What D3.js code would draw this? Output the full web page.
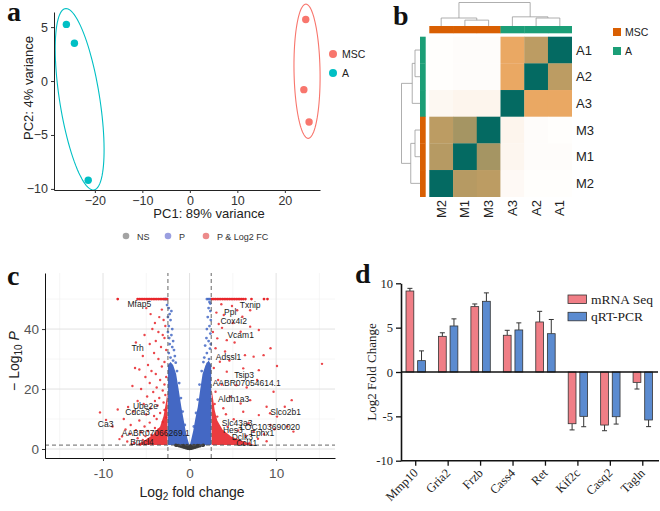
<!DOCTYPE html>
<html>
<head>
<meta charset="utf-8">
<script src="https://cdn.jsdelivr.net/npm/d3@7"></script>
<style>
  body { margin: 0; background: #fff; }
  svg { display: block; font-family: "Liberation Sans", Arial, sans-serif; }
</style>
</head>
<body>
<svg id="fig" width="660" height="511"></svg>
<script>
// ---------- panel a : PCA ----------
const pcaGroup = ['MSC', 'MSC', 'MSC', 'A', 'A', 'A'];
const pc1 = [24.4, 24.0, 25.1, -26.0, -24.3, -21.4];
const pc2 = [5.7, -0.8, -3.8, 5.25, 3.5, -9.2];
// ellipse per group: centre and two conjugate half-diameters (data units)
const ellGroups = ['MSC', 'A'];
const ellCentre = [[24.67, 0.91], [-23.2, -1.69]];
const ellU = [[-0.24, 6.22], [-2.87, 8.41]];
const ellV = [[2.74, 0], [4.27, 0]];

// ---------- panel b : sample distance heatmap ----------
const heatRows = ['A1', 'A2', 'A3', 'M3', 'M1', 'M2'];
const heatCols = ['M2', 'M1', 'M3', 'A3', 'A2', 'A1'];
const heatVals = [
  [0.01, 0.02, 0.02, 0.60, 0.68, 1.00],
  [0.01, 0.02, 0.02, 0.60, 1.00, 0.68],
  [0.05, 0.07, 0.07, 1.00, 0.60, 0.60],
  [0.68, 0.72, 1.00, 0.07, 0.02, 0.01],
  [0.69, 1.00, 0.72, 0.06, 0.02, 0.02],
  [1.00, 0.69, 0.68, 0.04, 0.01, 0.01]
];
const sampleGroup = { M1: 'MSC', M2: 'MSC', M3: 'MSC', A1: 'A', A2: 'A', A3: 'A' };
// cluster tree (heights relative to root)
const colTree = { h: 1, c: [
  { h: 0.34, c: ['M2', { h: 0.25, c: ['M1', 'M3'] }] },
  { h: 0.39, c: ['A3', { h: 0.34, c: ['A2', 'A1'] }] }
] };
const rowTree = { h: 1, c: [
  { h: 0.42, c: [{ h: 0.27, c: ['A1', 'A2'] }, 'A3'] },
  { h: 0.5, c: [{ h: 0.27, c: ['M3', 'M1'] }, 'M2'] }
] };

// ---------- panel c : volcano ----------
const nsPts = [[-1.5,1.2],[-1.2,1.0],[-1.0,0.9],[-0.8,0.7],[-0.6,0.5],[-0.4,0.35],[-0.2,0.2],[0,0.1],
  [0.2,0.2],[0.4,0.35],[0.6,0.5],[0.8,0.7],[1.0,0.9],[1.2,1.0],[1.5,1.2],[-1.3,1.25],[-0.9,1.1],
  [-0.5,0.9],[-0.1,0.6],[0.3,0.8],[0.7,1.0],[1.1,1.2],[-0.3,1.2],[0.1,1.1],[0.5,1.25],[-0.7,1.25],
  [0.9,1.25],[0,0.5],[-0.2,0.9],[0.2,0.4],[-1.6,1.28],[1.6,1.28],[-0.05,0.3],[0.05,0.8]];
// dense blue (P only) regions, outline
const pDense = [
  [[-2.5,1.3],[-2.5,28],[-2.2,29],[-1.9,28],[-1.55,25],[-1.27,20],[-0.95,14],[-0.7,10],[-0.45,6],[-0.25,3.5],[-0.05,1.6],[0,1.3]],
  [[2.5,1.3],[2.5,28],[2.2,29.5],[1.85,28],[1.5,25],[1.24,20],[0.95,14],[0.66,10],[0.42,6],[0.22,3.5],[0.05,1.6],[0,1.3]]
];
const pPts = [[-2.6,48],[-2.4,47],[-2.3,45],[-2.2,43],[-2.4,41],[-2.0,40],[-2.5,39],[-2.1,38],[-1.9,36],
  [-2.3,35],[-2.0,34],[-1.8,33],[-2.4,32],[-1.7,31],[-2.2,30.5],[-1.9,29.5],[-1.6,28.8],[-2.5,44],
  [-2.35,37],[-2.1,46],[-1.45,26],[-1.2,22],[-1.0,17],[-0.8,12.5],[-0.55,8],
  [2.3,49],[2.2,47],[2.4,46],[2.1,44],[2.45,43],[2.3,41],[2.0,40],[2.4,38.5],[1.95,37],[2.2,36],
  [1.8,34.5],[2.35,33.5],[2.0,32],[1.7,30.5],[2.25,30],[1.6,29],[2.1,28.5],[2.4,48.5],[2.45,35],
  [1.4,26],[1.15,21.5],[0.95,16.5],[0.75,12],[0.5,7.5],
  [-2.9,50],[-2.75,50],[-2.6,50],[2.0,50],[2.15,50],[2.3,50],[2.45,50]];
const fcDense = [
  [[-2.55,1.3],[-6.2,1.3],[-5.2,2.8],[-4.2,4.8],[-3.4,7.5],[-3.0,11],[-2.7,16],[-2.55,19]],
  [[2.55,1.3],[7.5,1.3],[6.2,2.6],[4.8,4.2],[3.8,6.5],[3.2,9.5],[2.9,13],[2.65,18],[2.55,20]]
];
const fcPts = [[-5.0,47],[-4.5,45],[-3.2,46.5],[-3.5,44],[-4.0,42],[-3.0,43],[-2.8,41],[-4.3,40],[-3.6,39],
  [-3.1,38],[-5.2,38],[-2.9,37],[-3.9,36],[-6.2,35.5],[-4.6,35],[-3.3,34],[-2.7,33],[-4.1,32],[-5.4,31],
  [-3.6,30],[-2.9,29],[-4.8,28],[-3.2,27.5],[-6.3,27],[-5.8,26.5],[-4.4,26],[-3.9,25],[-2.7,24],[-5.1,24],
  [-3.4,23],[-4.6,22],[-2.9,21.5],[-6.6,21],[-3.8,20.5],[-5.6,20],[-3.1,19.5],[-4.2,19],[-2.8,18],
  [-4.9,17.5],[-3.5,17],[-6.0,16],[-4.0,16],[-3.0,15.5],[-5.3,15],[-3.7,14.5],[-7.1,14],[-4.5,13.5],
  [-2.9,13],[-6.5,12.5],[-3.4,12],[-5.0,11.5],[-4.1,11],[-2.7,10.5],[-7.6,10],[-3.8,10],[-5.8,9.5],
  [-3.1,9],[-4.6,8.8],[-8.3,13.2],[-10.35,12.2],[-9.65,9.7],[-8.9,7.5],[-6.8,8],[-5.2,7.5],[-4.0,7],
  [-7.4,6.5],[-6.2,6.3],[-4.8,6],[-5.6,5.6],[-6.9,5],[-7.8,4.2],[-5.1,4.3],[-6.0,3.6],[-5.4,3],
  [-6.4,2],[-7.2,2.5],[-5.7,1.4],[-8.1,3.3],[-6.7,1.6],[-4.4,4.7],[-3.6,6.5],[-4.7,2.6],
  [3.67,48.3],[4.9,47.7],[5.5,46.3],[7.0,46.3],[3.95,44.7],[6.1,44.1],[3.37,41.7],[3.75,40.4],[7.0,40.8],
  [8.0,39.7],[5.9,39.1],[3.2,36.9],[4.3,36.3],[9.35,33.6],[3.0,33.6],[6.4,31.3],[7.4,30.8],[8.55,31.3],
  [3.5,29.1],[10.1,27.7],[15.3,28.4],[8.0,26.3],[4.3,25.8],[6.2,26.9],[3.3,23.0],[5.4,21.3],[7.8,23],
  [9.7,19.1],[3.0,19.1],[4.7,17.4],[7.0,16.3],[11.8,16.3],[11.0,14.1],[8.9,14.1],[3.9,13.6],[6.2,12.4],
  [8.0,11.3],[10.1,10.8],[3.2,10.8],[5.1,9.9],[6.8,8.6],[9.35,8.0],[11.3,7.5],[9.3,11.9],[12.0,5.8],
  [4.4,7.4],[5.6,6.2],[7.4,5.8],[8.6,4.9],[6.5,4.4],[9.8,6.6],[7.9,3.4],[5.2,3.0],[8.9,2.6],[6.9,1.9],
  [4.1,32.5],[5.0,42.0],[3.1,45.5],[4.6,29.5],[2.8,27],[3.7,21.5],[2.9,15],[4.2,11.6],[5.9,15.2],
  [6.6,20.5],[5.2,35.5],[2.7,39]];
// points capped at -log10 P = 50
const capRedX = [-8.3,-6.0,-5.8,-5.6,-5.4,-5.2,-5.0,-4.8,-4.6,-4.4,-4.2,-4.0,-3.8,-3.6,-3.4,-3.2,-3.0,-2.8,-2.6,
  2.6,2.8,3.0,3.2,3.4,3.6,3.8,4.0,4.2,4.4,4.6,4.8,5.0,5.2,5.4,5.6,5.8,6.0,6.2,6.45,7.15,8.6,9.0];
const capY = 50;
const geneLabels = ['Mfap5','Txnip','Ppl','Cox4i2','Vcam1','Trh','Adssl1','Tsip3','AABR07054614.1','Aldh1a3',
  'Ube2e','Cdca3','Slco2b1','Ca3','Slc43a3','LOC103690020','Hes3','Ephx1','Dclk3','Ccl11','AABR07066269.1','Bmcl4'];
const labelX = [-5.8, 7.0, 4.7, 5.1, 5.9, -6.0, 4.5, 6.3, 6.6, 5.1, -5.1, -6.0, 11.1, -9.7, 5.5, 9.3, 5.0, 8.4, 6.1, 6.6, -3.9, -5.5];
const labelY = [48.2, 48.0, 45.8, 42.8, 38.1, 33.6, 30.8, 24.7, 22.1, 16.8, 14.4, 12.2, 12.2, 8.3, 8.8, 7.4, 6.3, 5.4, 4.1, 1.9, 5.4, 2.4];
const fcCut = 2.5, pCut = 1.3;

// ---------- panel d : validation bars ----------
const genes = ['Mmp10', 'Gria2', 'Frzb', 'Cass4', 'Ret', 'Kif2c', 'Casq2', 'Tagln'];
const methods = ['mRNA Seq', 'qRT-PCR'];
const seqFC = [9.13, 4.02, 7.37, 4.14, 5.64, -5.83, -5.98, -1.17];
const seqErr = [0.3, 0.4, 0.3, 0.56, 1.2, 0.7, 0.64, 0.75];
const pcrFC = [1.28, 5.19, 7.97, 4.74, 4.32, -5.0, -5.04, -5.41];
const pcrErr = [1.1, 0.8, 0.95, 0.8, 1.6, 1.17, 0.83, 0.75];

const svg = d3.select('#fig');

// panel letters
[['a', 7, 21], ['b', 393, 25], ['c', 7, 285], ['d', 355, 283]].forEach(([t, x, y]) => {
  svg.append('text').attr('x', x).attr('y', y).text(t)
    .style('font-family', '"Liberation Serif", "Times New Roman", serif')
    .style('font-weight', 'bold').style('font-size', '28px').attr('fill', '#111');
});

// ================= a =================
{
  const g = svg.append('g');
  const x = d3.scaleLinear().domain([-28.6, 27.4]).range([54, 320]);
  const y = d3.scaleLinear().domain([-10.1, 6.4]).range([190, 12]);
  const col = d3.scaleOrdinal().domain(['MSC', 'A']).range(['#F8766D', '#00BFC4']);

  const line = d3.line().x(d => x(d[0])).y(d => y(d[1]));
  ellGroups.forEach((grp, i) => {
    const pts = d3.range(0, 101).map(k => {
      const t = k / 100 * 2 * Math.PI;
      return [ellCentre[i][0] + ellU[i][0] * Math.cos(t) + ellV[i][0] * Math.sin(t),
              ellCentre[i][1] + ellU[i][1] * Math.cos(t) + ellV[i][1] * Math.sin(t)];
    });
    g.append('path').attr('d', line(pts)).attr('fill', 'none')
      .attr('stroke', col(grp)).attr('stroke-width', 1.1);
  });

  g.selectAll('circle.pt').data(pc1).join('circle').attr('class', 'pt')
    .attr('cx', d => x(d)).attr('cy', (d, i) => y(pc2[i])).attr('r', 3.7)
    .attr('fill', (d, i) => col(pcaGroup[i]));

  const ax = g.append('g').attr('transform', 'translate(0,190)')
    .call(d3.axisBottom(x).tickValues([-20, -10, 0, 10, 20]).tickSize(3).tickSizeOuter(0));
  const ay = g.append('g').attr('transform', 'translate(54,0)')
    .call(d3.axisLeft(y).tickValues([-10, -5, 0, 5]).tickSize(3).tickSizeOuter(0));
  [ax, ay].forEach(a => {
    a.selectAll('text').style('font-size', '12.5px').attr('fill', '#333')
      .style('font-family', '"Liberation Sans", Arial, sans-serif');
    a.select('.domain').attr('stroke', '#222');
    a.selectAll('.tick line').attr('stroke', '#333');
  });
  g.append('text').attr('x', 209).attr('y', 218).attr('text-anchor', 'middle')
    .style('font-size', '13px').attr('fill', '#222').text('PC1: 89% variance');
  g.append('text').attr('transform', 'translate(33,88) rotate(-90)').attr('text-anchor', 'middle')
    .style('font-size', '13px').attr('fill', '#222').text('PC2: 4% variance');

  col.domain().forEach((grp, i) => {
    g.append('circle').attr('cx', 333).attr('cy', 54 + i * 19).attr('r', 4).attr('fill', col(grp));
    g.append('text').attr('x', 342).attr('y', 58 + i * 19).style('font-size', '10.5px')
      .attr('fill', '#222').text(grp);
  });
}

// ================= b =================
{
  const g = svg.append('g');
  const x = d3.scaleBand().domain(heatCols).range([429.3, 571.7]);
  const y = d3.scaleBand().domain(heatRows).range([36.7, 196.7]);
  const color = d3.scaleLinear().domain([0, 0.6, 1]).range(['#ffffff', '#eaa863', '#046a62']);
  const annCol = d3.scaleOrdinal().domain(['MSC', 'A']).range(['#D95F02', '#1B9E77']);

  heatRows.forEach((r, i) => {
    heatCols.forEach((c, j) => {
      g.append('rect').attr('x', x(c)).attr('y', y(r))
        .attr('width', x.bandwidth() + 0.3).attr('height', y.bandwidth() + 0.3)
        .attr('fill', color(heatVals[i][j]));
    });
  });
  // annotation bars
  heatCols.forEach(c => g.append('rect').attr('x', x(c)).attr('y', 26)
    .attr('width', x.bandwidth() + 0.3).attr('height', 7.3).attr('fill', annCol(sampleGroup[c])));
  heatRows.forEach(r => g.append('rect').attr('x', 420).attr('y', y(r))
    .attr('width', 5.7).attr('height', y.bandwidth() + 0.3).attr('fill', annCol(sampleGroup[r])));

  // dendrograms
  const dStroke = { stroke: '#9a9a9a', 'stroke-width': 0.8, fill: 'none' };
  function drawTree(node, pos, hpx, base, vertical) {
    if (typeof node === 'string') return { p: pos(node), h: base };
    const kids = node.c.map(k => drawTree(k, pos, hpx, base, vertical));
    const h = base - node.h * hpx;
    const p = (kids[0].p + kids[1].p) / 2;
    const pathStr = vertical
      ? `M${kids[0].p},${kids[0].h}V${h}H${kids[1].p}V${kids[1].h}`
      : `M${kids[0].h},${kids[0].p}H${h}V${kids[1].p}H${kids[1].h}`;
    const el = g.append('path').attr('d', pathStr);
    Object.entries(dStroke).forEach(([k, v]) => el.attr(k, v));
    return { p, h };
  }
  drawTree(colTree, c => x(c) + x.bandwidth() / 2, 23.5, 26, true);
  drawTree(rowTree, r => y(r) + y.bandwidth() / 2, 18.5, 420, false);

  heatRows.forEach(r => g.append('text').attr('x', 576).attr('y', y(r) + y.bandwidth() / 2 + 4.5)
    .style('font-size', '13px').attr('fill', '#222').text(r));
  heatCols.forEach(c => g.append('text')
    .attr('transform', `translate(${x(c) + x.bandwidth() / 2 + 4.5},200) rotate(-90)`)
    .attr('text-anchor', 'end').style('font-size', '13px').attr('fill', '#222').text(c));

  annCol.domain().forEach((grp, i) => {
    g.append('rect').attr('x', 613).attr('y', 28 + i * 19).attr('width', 8).attr('height', 8)
      .attr('fill', annCol(grp));
    g.append('text').attr('x', 625).attr('y', 35.5 + i * 19).style('font-size', '10.5px')
      .attr('fill', '#222').text(grp);
  });
}

// ================= c =================
{
  const g = svg.append('g');
  const x = d3.scaleLinear().domain([-16.7, 16.8]).range([45, 335]);
  const y = d3.scaleLinear().domain([-3, 58.7]).range([458, 273]);
  const [x0, x1] = x.range(), [y0, y1] = y.range();

  // grid
  [-15, -5, 5, 15].forEach(v => g.append('line').attr('x1', x(v)).attr('x2', x(v))
    .attr('y1', y0).attr('y2', y1).attr('stroke', '#f0f0f0').attr('stroke-width', 0.6));
  [10, 30, 50].forEach(v => g.append('line').attr('y1', y(v)).attr('y2', y(v))
    .attr('x1', x0).attr('x2', x1).attr('stroke', '#f0f0f0').attr('stroke-width', 0.6));
  [-10, 0, 10].forEach(v => g.append('line').attr('x1', x(v)).attr('x2', x(v))
    .attr('y1', y0).attr('y2', y1).attr('stroke', '#e2e2e2').attr('stroke-width', 1));
  [0, 20, 40].forEach(v => g.append('line').attr('y1', y(v)).attr('y2', y(v))
    .attr('x1', x0).attr('x2', x1).attr('stroke', '#e2e2e2').attr('stroke-width', 1));

  const area = d3.line().x(d => x(d[0])).y(d => y(d[1])).curve(d3.curveLinearClosed);
  const red = '#e8262b', blue = '#4468c4', grey = '#3a3a3a';

  g.selectAll('path.fcd').data(fcDense).join('path').attr('class', 'fcd')
    .attr('d', area).attr('fill', red).attr('opacity', 0.9);
  g.selectAll('path.pd').data(pDense).join('path').attr('class', 'pd')
    .attr('d', area).attr('fill', blue);

  g.selectAll('circle.ns').data(nsPts).join('circle').attr('class', 'ns')
    .attr('cx', d => x(d[0])).attr('cy', d => y(d[1])).attr('r', 1.6).attr('fill', grey);
  g.selectAll('circle.p').data(pPts).join('circle').attr('class', 'p')
    .attr('cx', d => x(d[0])).attr('cy', d => y(d[1])).attr('r', 1.4).attr('fill', blue).attr('opacity', 0.85);
  g.selectAll('circle.fc').data(fcPts).join('circle').attr('class', 'fc')
    .attr('cx', d => x(d[0])).attr('cy', d => y(d[1])).attr('r', 1.2).attr('fill', red).attr('opacity', 0.85);
  g.selectAll('circle.cap').data(capRedX).join('circle').attr('class', 'cap')
    .attr('cx', d => x(d)).attr('cy', y(capY)).attr('r', 1.4).attr('fill', red);

  // cut-off lines
  [-fcCut, fcCut].forEach(v => g.append('line').attr('x1', x(v)).attr('x2', x(v))
    .attr('y1', y0).attr('y2', y1).attr('stroke', '#555').attr('stroke-width', 0.9)
    .attr('stroke-dasharray', '4,3'));
  g.append('line').attr('x1', x0).attr('x2', x1).attr('y1', y(pCut)).attr('y2', y(pCut))
    .attr('stroke', '#555').attr('stroke-width', 0.9).attr('stroke-dasharray', '4,3');

  geneLabels.forEach((t, i) => g.append('text').attr('x', x(labelX[i])).attr('y', y(labelY[i]) + 3)
    .attr('text-anchor', 'middle').style('font-size', '8.5px').attr('fill', '#1a1a1a').text(t));

  const ax = g.append('g').attr('transform', `translate(0,${y0})`)
    .call(d3.axisBottom(x).tickValues([-10, 0, 10]).tickSize(3).tickSizeOuter(0).tickFormat(d => d < 0 ? '-' + (-d) : d));
  const ay = g.append('g').attr('transform', `translate(${x0},0)`)
    .call(d3.axisLeft(y).tickValues([0, 20, 40]).tickSize(3).tickSizeOuter(0));
  [ax, ay].forEach(a => {
    a.selectAll('text').style('font-size', '13.5px').attr('fill', '#555')
      .style('font-family', '"Liberation Sans", Arial, sans-serif');
    a.select('.domain').attr('stroke', '#111').attr('stroke-width', 1);
    a.selectAll('.tick line').attr('stroke', '#333');
  });
  ax.selectAll('text').attr('dy', '1em');

  const xt = g.append('text').attr('x', 192).attr('y', 497).attr('text-anchor', 'middle')
    .style('font-size', '14px').attr('fill', '#222');
  xt.append('tspan').text('Log');
  xt.append('tspan').attr('dy', 3).style('font-size', '10px').text('2');
  xt.append('tspan').attr('dy', -3).text(' fold change');

  const yt = g.append('text').attr('transform', 'translate(19,361) rotate(-90)').attr('text-anchor', 'middle')
    .style('font-size', '14px').attr('fill', '#222');
  yt.append('tspan').text('\u2212 Log');
  yt.append('tspan').attr('dy', 3).style('font-size', '10px').text('10');
  yt.append('tspan').attr('dy', -3).text(' ');
  yt.append('tspan').style('font-style', 'italic').text('P');

  // legend
  const legItems = ['NS', 'P', 'P & Log2 FC'];
  const legCol = ['#a3a3a3', '#9a9fe0', '#ec8a8a'];
  const legX = [126, 168, 206];
  legItems.forEach((t, i) => {
    g.append('circle').attr('cx', legX[i]).attr('cy', 236).attr('r', 3.3).attr('fill', legCol[i]);
    g.append('text').attr('x', legX[i] + 11).attr('y', 239.5).style('font-size', '9px')
      .attr('fill', '#333').text(t);
  });
}

// ================= d =================
{
  const serif = '"Liberation Serif", "Times New Roman", serif';
  const g = svg.append('g').style('font-family', serif);
  const x = d3.scaleBand().domain(genes).range([399.5, 659]);
  const xm = d3.scaleBand().domain(methods).range([-9.7, 9.7]).paddingInner(0.33);
  const y = d3.scaleLinear().domain([-10, 10]).range([460.7, 283.3]);
  const col = d3.scaleOrdinal().domain(methods).range(['#f07e86', '#5b8bd0']);
  const vals = [seqFC, pcrFC], errs = [seqErr, pcrErr];

  methods.forEach((m, k) => {
    genes.forEach((gn, i) => {
      const v = vals[k][i], e = errs[k][i];
      const bx = x(gn) + x.bandwidth() / 2 + xm(m);
      const cx = bx + xm.bandwidth() / 2;
      const tip = v >= 0 ? v + e : v - e;
      g.append('line').attr('x1', cx).attr('x2', cx).attr('y1', y(v)).attr('y2', y(tip))
        .attr('stroke', '#333').attr('stroke-width', 1);
      g.append('line').attr('x1', cx - 2.5).attr('x2', cx + 2.5).attr('y1', y(tip)).attr('y2', y(tip))
        .attr('stroke', '#333').attr('stroke-width', 1);
      g.append('rect').attr('x', bx).attr('width', xm.bandwidth())
        .attr('y', y(Math.max(0, v))).attr('height', Math.abs(y(v) - y(0)))
        .attr('fill', col(m)).attr('stroke', '#333').attr('stroke-width', 0.8);
    });
  });

  // zero line
  g.append('line').attr('x1', 401).attr('x2', 658).attr('y1', y(0)).attr('y2', y(0))
    .attr('stroke', '#111').attr('stroke-width', 1.6);

  const ay = g.append('g').attr('transform', 'translate(401,0)')
    .call(d3.axisLeft(y).tickValues([-10, -5, 0, 5, 10]).tickSize(5).tickSizeOuter(0)
      .tickFormat(d => d < 0 ? '-' + (-d) : d));
  const ax = g.append('g').attr('transform', `translate(0,${y(-10)})`)
    .call(d3.axisBottom(x).tickSize(5).tickSizeOuter(0));
  [ax, ay].forEach(a => {
    a.select('.domain').attr('stroke', '#111').attr('stroke-width', 1.6);
    a.selectAll('.tick line').attr('stroke', '#111').attr('stroke-width', 1.3);
    a.selectAll('text').style('font-family', serif).style('font-size', '12.5px').attr('fill', '#222');
  });
  ax.select('.domain').attr('d', `M401,0H${x.range()[1]}`);
  ax.selectAll('text').attr('text-anchor', 'end').attr('dy', 0).attr('y', 0)
    .attr('transform', 'translate(3,13) rotate(-45)');

  g.append('text').attr('transform', 'translate(376,372) rotate(-90)').attr('text-anchor', 'middle')
    .style('font-size', '13px').attr('fill', '#222').text('Log2 Fold Change');

  methods.forEach((m, k) => {
    g.append('rect').attr('x', 568).attr('y', 295 + k * 17.3).attr('width', 18.5).attr('height', 8.5)
      .attr('fill', col(m)).attr('stroke', '#333').attr('stroke-width', 0.8);
    g.append('text').attr('x', 591).attr('y', 303.5 + k * 17.3).style('font-size', '13.5px')
      .attr('fill', '#222').text(m);
  });
}
</script>
</body>
</html>
